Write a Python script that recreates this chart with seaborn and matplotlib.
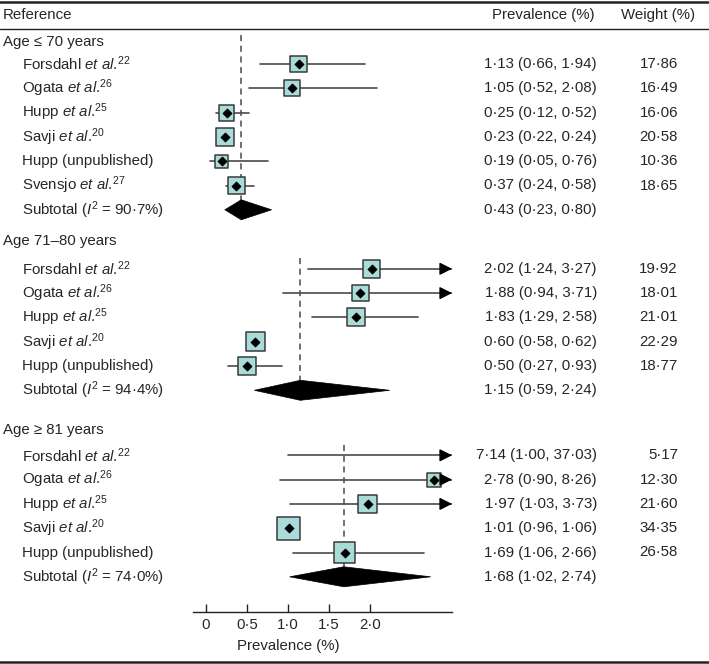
import numpy as np
import pandas as pd
import matplotlib
matplotlib.use("Agg")
import matplotlib.pyplot as plt
import seaborn as sns
from matplotlib.patches import Polygon
from matplotlib.transforms import blended_transform_factory

# === data ===
group_names = ["Age \u2264 70 years", "Age 71\u201380 years", "Age \u2265 81 years"]

study_names = [
    ["Forsdahl", "Ogata", "Hupp", "Savji", "Hupp (unpublished)", "Svensjo"],
    ["Forsdahl", "Ogata", "Hupp", "Savji", "Hupp (unpublished)"],
    ["Forsdahl", "Ogata", "Hupp", "Savji", "Hupp (unpublished)"],
]
study_refs = [
    ["22", "26", "25", "20", None, "27"],
    ["22", "26", "25", "20", None],
    ["22", "26", "25", "20", None],
]
prev_est = [
    [1.13, 1.05, 0.25, 0.23, 0.19, 0.37],
    [2.02, 1.88, 1.83, 0.60, 0.50],
    [7.14, 2.78, 1.97, 1.01, 1.69],
]
prev_lo = [
    [0.66, 0.52, 0.12, 0.22, 0.05, 0.24],
    [1.24, 0.94, 1.29, 0.58, 0.27],
    [1.00, 0.90, 1.03, 0.96, 1.06],
]
prev_hi = [
    [1.94, 2.08, 0.52, 0.24, 0.76, 0.58],
    [3.27, 3.71, 2.58, 0.62, 0.93],
    [37.03, 8.26, 3.73, 1.06, 2.66],
]
weights = [
    [17.86, 16.49, 16.06, 20.58, 10.36, 18.65],
    [19.92, 18.01, 21.01, 22.29, 18.77],
    [5.17, 12.30, 21.60, 34.35, 26.58],
]
sub_est = [0.43, 1.15, 1.68]
sub_lo = [0.23, 0.59, 1.02]
sub_hi = [0.80, 2.24, 2.74]
sub_i2 = [90.7, 94.4, 74.0]

xticks = [0, 0.5, 1.0, 1.5, 2.0]
xlim_max = 3.0


def fmt(v):
    return f"{v:.2f}".replace(".", "\u00b7")


# === style ===
sns.set_theme(style="white")
plt.rcParams['font.family'] = ['Liberation Sans', 'DejaVu Sans']
plt.rcParams['mathtext.fontset'] = 'custom'
plt.rcParams['mathtext.rm'] = 'Liberation Sans'
plt.rcParams['mathtext.it'] = 'Liberation Sans:italic'
FS = 10.8
line_col = "#4a4a4a"
box_fill = "#a9dcd8"
box_edge = "#3a3a3a"

W, H = 709, 664
fig = plt.figure(figsize=(W / 100, H / 100), dpi=100)
ax = fig.add_axes([193 / W, 0, 259 / W, 1])

# === layout of rows (pixel units from the top) ===
step = 24.3
first_gap = [22, 28, 25]
after_gap = [31, 40, 0]
dash_top = [35, 258, 445]

rows = []
headers_y, subs_y = [], []
cursor = 42
for g in range(len(group_names)):
    headers_y.append(cursor)
    y0 = cursor + first_gap[g]
    for i, name in enumerate(study_names[g]):
        rows.append(dict(group=g, name=name, ref=study_refs[g][i],
                         est=prev_est[g][i], lo=prev_lo[g][i], hi=prev_hi[g][i],
                         weight=weights[g][i], y=y0 + step * i))
    sub_y = y0 + step * len(study_names[g])
    subs_y.append(sub_y)
    cursor = sub_y + after_gap[g]

df = pd.DataFrame(rows)

# === forest part ===
for g in range(len(group_names)):
    ax.plot([sub_est[g], sub_est[g]], [dash_top[g], subs_y[g]], color=line_col,
            lw=1.1, ls=(0, (4, 3)), zorder=1)

for _, r in df.iterrows():
    right = min(r.hi, xlim_max)
    ax.plot([r.lo, right], [r.y, r.y], color=line_col, lw=1.2, zorder=2)
    if r.hi > xlim_max:
        ax.annotate("", xy=(xlim_max, r.y), xytext=(xlim_max - 0.14, r.y),
                    arrowprops=dict(arrowstyle="-|>,head_length=0.75,head_width=0.38",
                                    color="black", lw=1.0, shrinkA=0, shrinkB=0,
                                    mutation_scale=10),
                    annotation_clip=False, zorder=4)

side_pt = 3.95 * np.sqrt(df["weight"].to_numpy()) * 0.72
sns.scatterplot(data=df, x="est", y="y", marker="s", s=side_pt ** 2,
                color=box_fill, edgecolor=box_edge, linewidth=1.1,
                ax=ax, zorder=3, legend=False)
sns.scatterplot(data=df, x="est", y="y", marker="D", s=22, color="black",
                edgecolor="black", linewidth=0.5, ax=ax, zorder=5, legend=False)

for g in range(len(group_names)):
    y = subs_y[g]
    ax.add_patch(Polygon([(sub_lo[g], y), (sub_est[g], y - 10), (sub_hi[g], y),
                          (sub_est[g], y + 10)], closed=True, facecolor="black",
                         edgecolor="black", lw=0.5, zorder=4))

ax.set_xlim(-13 / 82, xlim_max)
ax.set_ylim(H, 0)
ax.set_xlabel("")
ax.set_ylabel("")
ax.set_yticks([])
for s in ["left", "right", "top"]:
    ax.spines[s].set_visible(False)
ax.spines["bottom"].set_position(("data", 612))
ax.spines["bottom"].set_color("#222222")
ax.spines["bottom"].set_linewidth(1.0)
ax.set_xticks(xticks)
ax.set_xticklabels(["0" if t == 0 else f"{t:.1f}".replace(".", "\u00b7") for t in xticks])
ax.tick_params(axis="x", direction="in", length=6, width=1.0, color="#222222",
               labelsize=FS, pad=4.5, bottom=True)
ax.text(1.0, 646, "Prevalence (%)", ha="center", va="center", fontsize=FS)
ax.patch.set_alpha(0)

# === text columns ===
tr = blended_transform_factory(fig.transFigure, ax.transData)


def put(xpx, y, s, ha="left"):
    ax.text(xpx / W, y, s, transform=tr, ha=ha, va="center", fontsize=FS, clip_on=False)


put(3, 15, "Reference")
put(595, 15, "Prevalence (%)", ha="right")
put(695, 15, "Weight (%)", ha="right")

for g in range(len(group_names)):
    put(3, headers_y[g], group_names[g])
    put(22, subs_y[g], "Subtotal ($\\mathit{I}^{2}$ = " + f"{sub_i2[g]:.1f}".replace(".", "\u00b7") + "%)")
    put(597, subs_y[g], f"{fmt(sub_est[g])} ({fmt(sub_lo[g])}, {fmt(sub_hi[g])})", ha="right")

for _, r in df.iterrows():
    if r.ref is None:
        label = r["name"]
    else:
        label = r["name"] + " $\\mathit{et\\ al}$.$^{" + r.ref + "}$"
    put(22, r.y, label)
    put(597, r.y, f"{fmt(r.est)} ({fmt(r.lo)}, {fmt(r.hi)})", ha="right")
    put(678, r.y, fmt(r.weight), ha="right")

# rules across the table
for ypx, lw in [(1.5, 1.8), (29, 1.0), (662, 1.8)]:
    fig.add_artist(plt.Line2D([0, 1], [1 - ypx / H, 1 - ypx / H], transform=fig.transFigure,
                              color="#222222", lw=lw))

fig.savefig("out.png", dpi=100)
